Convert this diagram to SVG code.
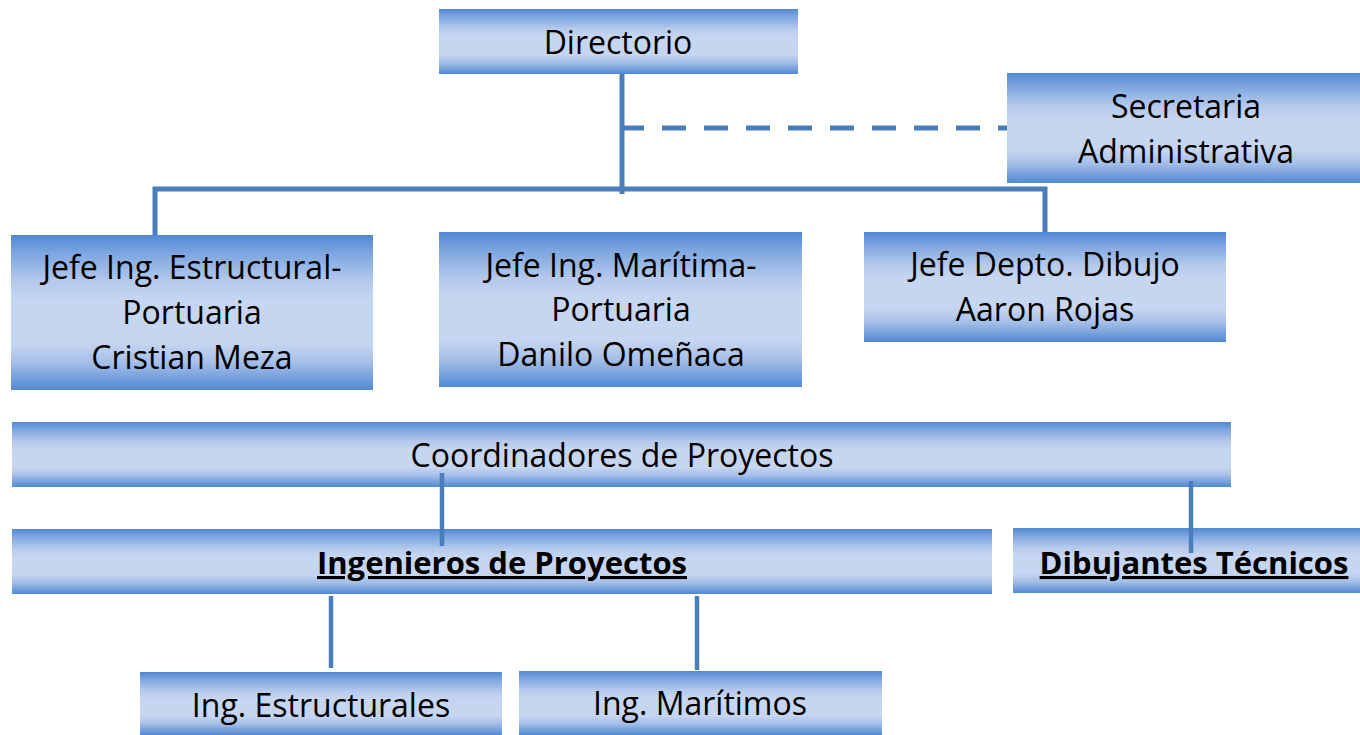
<svg xmlns="http://www.w3.org/2000/svg" width="1360" height="735" viewBox="0 0 1360 735">
<defs>
<linearGradient id="g" x1="0" y1="0" x2="0" y2="1">
<stop offset="0" stop-color="#5288d4"/>
<stop offset="0.12" stop-color="#7ea6e0"/>
<stop offset="0.3" stop-color="#b4c9ec"/>
<stop offset="0.42" stop-color="#c6d5f0"/>
<stop offset="0.7" stop-color="#c6d5f0"/>
<stop offset="0.82" stop-color="#a6bfe8"/>
<stop offset="1" stop-color="#5288d4"/>
</linearGradient>
<style>
.box{fill:url(#g);}
.t{font-family:"Open Sans","Liberation Sans",sans-serif;font-size:32px;fill:#000;text-anchor:middle;}
.b{font-weight:bold;text-decoration:underline;font-size:31px;}
.c{stroke:#4a7ebb;stroke-width:5;fill:none;}
.c2{stroke:#4a7ebb;stroke-width:4.5;fill:none;}
</style>
</defs>
<g id="connectors">
<line class="c" x1="622" y1="74" x2="622" y2="194"/>
<line class="c" x1="620" y1="128" x2="1007" y2="128" stroke-dasharray="24,18"/>
<polyline class="c" points="155,235 155,189 1045,189 1045,232"/>
</g>
<g id="directorio"><rect class="box" x="439" y="9" width="359" height="65"/><text class="t" x="618" y="54">Directorio</text></g>
<g id="secretaria"><rect class="box" x="1007" y="73" width="353" height="110"/><text class="t" x="1186" y="118">Secretaria</text><text class="t" x="1186" y="163">Administrativa</text></g>
<g id="jefe-estructural"><rect class="box" x="11" y="235" width="362" height="155"/><text class="t" x="192" y="279">Jefe Ing. Estructural-</text><text class="t" x="192" y="324">Portuaria</text><text class="t" x="192" y="369">Cristian Meza</text></g>
<g id="jefe-maritima"><rect class="box" x="439" y="232" width="363" height="155"/><text class="t" x="621" y="277">Jefe Ing. Marítima-</text><text class="t" x="621" y="321">Portuaria</text><text class="t" x="621" y="366">Danilo Omeñaca</text></g>
<g id="jefe-dibujo"><rect class="box" x="864" y="232" width="362" height="110"/><text class="t" x="1045" y="276">Jefe Depto. Dibujo</text><text class="t" x="1045" y="321">Aaron Rojas</text></g>
<g id="coordinadores"><rect class="box" x="12" y="422" width="1219" height="65"/><text class="t" x="622" y="467">Coordinadores de Proyectos</text></g>
<g id="ingenieros"><rect class="box" x="12" y="529" width="980" height="65"/><text class="t b" x="502" y="574">Ingenieros de Proyectos</text></g>
<g id="dibujantes"><rect class="box" x="1013" y="528" width="347" height="65"/><text class="t b" x="1194" y="574">Dibujantes Técnicos</text></g>
<g id="ing-estructurales"><rect class="box" x="140" y="672" width="362" height="63"/><text class="t" x="321" y="717">Ing. Estructurales</text></g>
<g id="ing-maritimos"><rect class="box" x="519" y="671" width="363" height="64"/><text class="t" x="700" y="715">Ing. Marítimos</text></g>
<g id="connectors-lower">
<line class="c2" x1="442" y1="473" x2="442" y2="546"/>
<line class="c2" x1="1191" y1="481" x2="1191" y2="553"/>
<line class="c2" x1="331" y1="596" x2="331" y2="668"/>
<line class="c2" x1="697" y1="596" x2="697" y2="670"/>
</g>
</svg>
